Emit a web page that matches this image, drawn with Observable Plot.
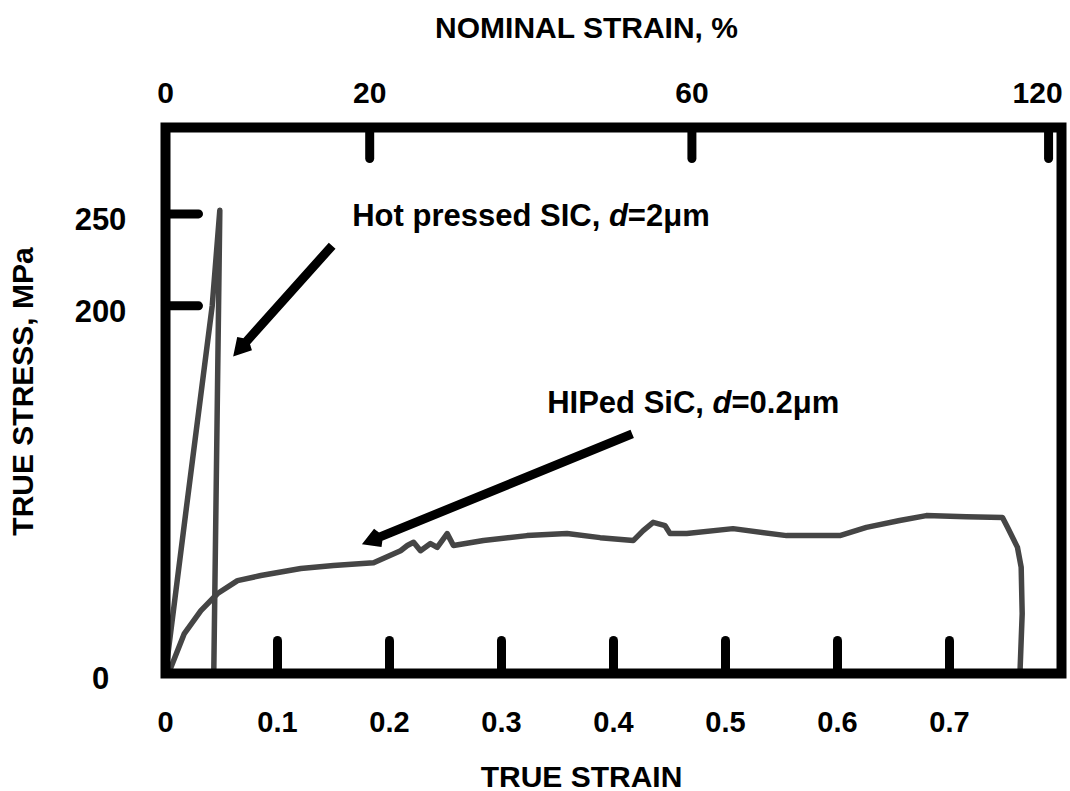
<!DOCTYPE html>
<html>
<head>
<meta charset="utf-8">
<script src="https://cdn.jsdelivr.net/npm/d3@7"></script>
<script src="https://cdn.jsdelivr.net/npm/@observablehq/plot@0.6"></script>
<style>
  html, body { margin: 0; padding: 0; background: #fff; }
  #chart svg { font-family: "Liberation Sans", Arial, Helvetica, sans-serif; }
</style>
</head>
<body>
<div id="chart"></div>
<script>
// ---- data ----
const trueStrainTicks = [0, 0.1, 0.2, 0.3, 0.4, 0.5, 0.6, 0.7];
const stressTicks = [0, 200, 250];
const nominalStrainTicks = [0, 20, 60, 120];   // percent

// Hot pressed SiC, d = 2 µm
const hotPressedStrain = [0, 0.018, 0.0417, 0.0485, 0.0431];
const hotPressedStress = [0, 87, 200, 252, 0];

// HIPed SiC, d = 0.2 µm
const hipStrain = [0.004, 0.0168, 0.0316, 0.0465, 0.0643, 0.0851, 0.1208, 0.150, 0.1858, 0.2099,
  0.2159, 0.2215, 0.2277, 0.2366, 0.2426, 0.2515, 0.2571, 0.2839, 0.3228, 0.3585,
  0.3881, 0.4176, 0.4265, 0.4354, 0.4461, 0.4505, 0.4654, 0.5067, 0.5545, 0.6021,
  0.6258, 0.6555, 0.6793, 0.7150, 0.7473, 0.7518, 0.7607, 0.7640, 0.7649, 0.7631, 0.763];
const hipStress = [2, 21.7, 34.2, 43.5, 50.5, 53.3, 57.1, 58.7, 60.3, 66.8,
  69.6, 71.4, 66.8, 70.7, 68.6, 76.1, 69.6, 72.3, 75.0, 76.1,
  73.9, 72.3, 77.7, 82.2, 80.4, 76.1, 76.1, 78.8, 75.0, 75.0,
  79.5, 83.2, 85.9, 85.3, 84.9, 79.5, 68.6, 57.8, 32.6, 3.4, 0];

// annotations
const annotationText = ["Hot pressed SIC, d=2\u03BCm", "HIPed SiC, d=0.2\u03BCm"];
const annotationStrain = [0.1667, 0.3408];
const annotationStress = [249, 147];
const arrowFromStrain = [0.1488, 0.4167];
const arrowFromStress = [232.7, 130.3];
const arrowToStrain = [0.061, 0.1762];
const arrowToStress = [172.9, 70.5];

// ---- chart ----
const curveColor = "#454545";
const tickShape = { draw(context, l) { context.moveTo(0, 0); context.lineTo(0, -l); } };
const hipIdx = d3.range(hipStrain.length);
const hotIdx = d3.range(hotPressedStrain.length);
const arrIdx = d3.range(arrowFromStrain.length);
const lastNominal = d3.max(nominalStrainTicks);
const txt = { fontWeight: "bold", textAnchor: "middle", lineAnchor: "middle" };

const plot = Plot.plot({
  width: 1070,
  height: 791,
  marginLeft: 165,
  marginRight: 9,
  marginTop: 127,
  marginBottom: 118,
  x: { domain: [0, 0.8], axis: null },
  y: { domain: [0, 297], axis: null },
  style: { background: "white", color: "black", fontFamily: "'Liberation Sans', Arial, sans-serif", overflow: "visible" },
  marks: [
    Plot.line(hipIdx, { x: i => hipStrain[i], y: i => hipStress[i], stroke: curveColor, strokeWidth: 5.5, strokeLinejoin: "round", strokeLinecap: "round" }),
    Plot.line(hotIdx, { x: i => hotPressedStrain[i], y: i => hotPressedStress[i], stroke: curveColor, strokeWidth: 5.5, strokeLinejoin: "round", strokeLinecap: "round" }),
    Plot.frame({ stroke: "black", strokeWidth: 10 }),
    // inward ticks
    Plot.vector(trueStrainTicks.filter(d => d > 0), { x: d => d, frameAnchor: "bottom", anchor: "start", rotate: 0, length: 33, shape: tickShape, stroke: "black", strokeWidth: 9, strokeLinecap: "round" }),
    Plot.vector(stressTicks.filter(d => d > 0), { y: d => d, frameAnchor: "left", anchor: "start", rotate: 90, length: 33, shape: tickShape, stroke: "black", strokeWidth: 9, strokeLinecap: "round" }),
    Plot.vector(nominalStrainTicks.filter(d => d > 0), { x: n => Math.log(1 + n / 100), frameAnchor: "top", anchor: "start", rotate: 180, length: 31, shape: tickShape, stroke: "black", strokeWidth: 9, strokeLinecap: "round" }),
    // tick labels
    Plot.text(trueStrainTicks, { ...txt, x: d => d, text: d => String(d), frameAnchor: "bottom", dy: 49, fontSize: 29 }),
    Plot.text(stressTicks, { ...txt, y: d => d, text: d => String(d), frameAnchor: "left", dx: -65, dy: 6, fontSize: 31 }),
    Plot.text(nominalStrainTicks.filter(n => n < lastNominal), { ...txt, x: n => Math.log(1 + n / 100), text: n => String(n), frameAnchor: "top", dy: -34, fontSize: 30 }),
    Plot.text(nominalStrainTicks.filter(n => n === lastNominal), { ...txt, textAnchor: "end", x: n => Math.log(1 + n / 100), text: n => String(n), frameAnchor: "top", dx: 14, dy: -34, fontSize: 30 }),
    // axis titles
    Plot.text(["TRUE STRAIN"], { ...txt, frameAnchor: "bottom", dx: -32, dy: 104, fontSize: 30 }),
    Plot.text(["NOMINAL STRAIN, %"], { ...txt, frameAnchor: "top", dx: -27, dy: -99, fontSize: 30 }),
    Plot.text(["TRUE STRESS, MPa"], { ...txt, frameAnchor: "left", dx: -142, dy: -9, rotate: -90, fontSize: 30 }),
    // annotations
    Plot.text(annotationText, { fontWeight: "bold", lineAnchor: "middle", x: (d, i) => annotationStrain[i], y: (d, i) => annotationStress[i], textAnchor: "start", fontSize: 31 }),
    Plot.arrow(arrIdx, {
      x1: i => arrowFromStrain[i], y1: i => arrowFromStress[i],
      x2: i => arrowToStrain[i], y2: i => arrowToStress[i],
      stroke: "black", fill: "black", strokeWidth: 9, headLength: 2, headAngle: 60,
      strokeLinecap: "butt", strokeLinejoin: "miter", strokeMiterlimit: 4, insetEnd: 8
    })
  ]
});

document.getElementById("chart").appendChild(plot);

// italic "d" inside annotation labels
d3.select(plot).selectAll("text").each(function () {
  const t = this.textContent;
  const m = t.match(/^(.*, )d(=.*)$/);
  if (m) {
    const s = d3.select(this);
    s.text(null);
    s.append("tspan").text(m[1]);
    s.append("tspan").attr("font-style", "italic").text("d");
    s.append("tspan").text(m[2]);
  }
});
</script>
</body>
</html>
